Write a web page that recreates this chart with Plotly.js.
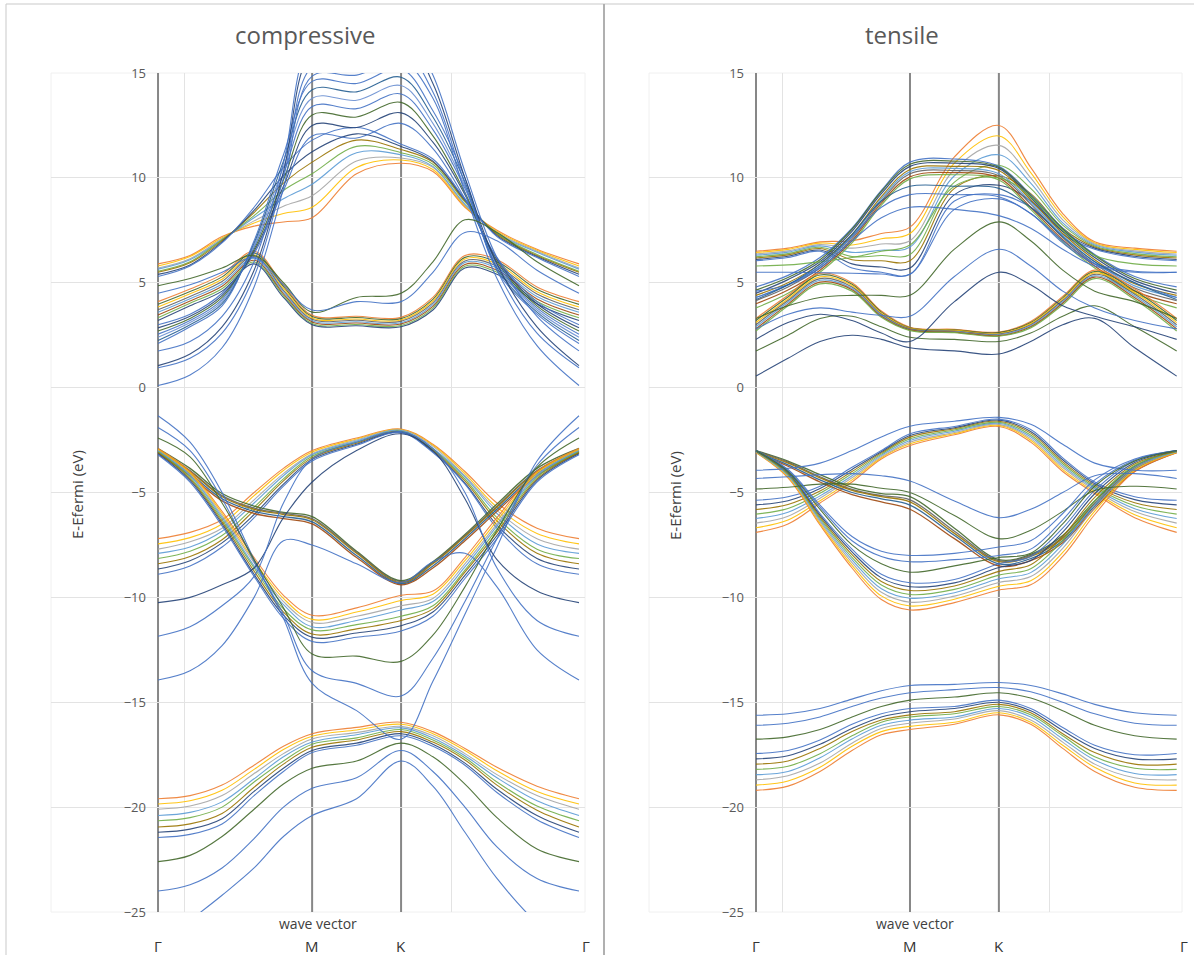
<!DOCTYPE html>
<html>
<head>
<meta charset="utf-8">
<script src="https://cdn.plot.ly/plotly-3.0.1.min.js"></script>
<style>html,body{margin:0;padding:0;background:#fff;}#chart{width:1194px;height:955px;}</style>
</head>
<body>
<div id="chart"></div>
<script>
// ---------------- DATA ----------------
// k-path distances (Γ -> M -> K -> Γ)
const kPath = [0, 0.12, 0.24, 0.36, 0.47, 0.5774, 0.744, 0.9107, 1.03, 1.15, 1.27, 1.42, 1.5774];
const kSym = [0, 0.5774, 0.9107, 1.5774];
const kSymLabels = ['Γ', 'M', 'K', 'Γ'];
const panelTitles = ['compressive', 'tensile'];
const yTitle = 'E-Efermi (eV)';
const xTitle = 'wave vector';

// ===== compressive =====
const cmpBottomFan = [
  [-19.6,-19.45,-18.95,-18.0,-17.1,-16.5,-16.2,-15.95,-16.4,-17.2,-18.1,-19.0,-19.6],
  [-19.85,-19.7,-19.2,-18.2,-17.25,-16.62,-16.32,-16.05,-16.5,-17.3,-18.27,-19.25,-19.85],
  [-20.1,-19.95,-19.45,-18.4,-17.45,-16.75,-16.45,-16.15,-16.6,-17.45,-18.45,-19.45,-20.1],
  [-20.4,-20.25,-19.75,-18.65,-17.6,-16.9,-16.55,-16.22,-16.7,-17.55,-18.6,-19.7,-20.4],
  [-20.65,-20.5,-20.0,-18.8,-17.8,-17.0,-16.7,-16.3,-16.8,-17.65,-18.8,-19.95,-20.65],
  [-20.95,-20.8,-20.3,-19.05,-17.95,-17.15,-16.8,-16.4,-16.9,-17.75,-18.95,-20.15,-20.95],
  [-21.2,-21.05,-20.55,-19.25,-18.15,-17.3,-16.95,-16.5,-17.0,-17.9,-19.15,-20.4,-21.2],
  [-21.45,-21.3,-20.8,-19.45,-18.3,-17.4,-17.05,-16.6,-17.1,-18.0,-19.3,-20.6,-21.45]
];
const cmpBottomSingles = [
  [-22.6,-22.3,-21.4,-20.1,-18.9,-18.15,-17.8,-16.95,-17.6,-18.9,-20.5,-22.0,-22.6],
  [-24.0,-23.7,-22.9,-21.5,-20.0,-19.1,-18.6,-17.3,-18.3,-20.0,-21.9,-23.4,-24.0],
  [-26.6,-25.4,-24.2,-22.9,-21.4,-20.4,-19.6,-17.8,-19.0,-21.2,-23.4,-25.5,-26.8]
];
const cmpValUpperFan = [
  [-7.2,-6.9,-6.3,-5.0,-3.85,-3.0,-2.4,-1.97,-2.7,-4.0,-5.5,-6.7,-7.2],
  [-7.45,-7.15,-6.5,-5.15,-3.95,-3.07,-2.45,-2.0,-2.75,-4.1,-5.7,-6.95,-7.45],
  [-7.7,-7.35,-6.7,-5.35,-4.1,-3.15,-2.5,-2.02,-2.8,-4.2,-5.85,-7.2,-7.7],
  [-7.9,-7.6,-6.85,-5.5,-4.2,-3.2,-2.55,-2.05,-2.9,-4.25,-6.0,-7.45,-7.9],
  [-8.15,-7.8,-7.05,-5.7,-4.35,-3.27,-2.6,-2.08,-2.95,-4.35,-6.2,-7.7,-8.15],
  [-8.4,-8.05,-7.25,-5.85,-4.45,-3.35,-2.65,-2.1,-3.0,-4.45,-6.35,-7.9,-8.4],
  [-8.65,-8.25,-7.4,-6.05,-4.6,-3.42,-2.7,-2.12,-3.05,-4.55,-6.55,-8.15,-8.65],
  [-8.9,-8.5,-7.6,-6.2,-4.7,-3.5,-2.75,-2.15,-3.1,-4.6,-6.7,-8.4,-8.9]
];
const cmpValThick = [
  [-2.9,-3.85,-5.05,-5.65,-5.95,-6.15,-7.8,-9.2,-8.3,-7.0,-5.55,-3.85,-2.9],
  [-2.95,-3.95,-5.15,-5.75,-6.0,-6.25,-7.85,-9.25,-8.35,-7.05,-5.65,-3.95,-2.95],
  [-3.0,-4.0,-5.2,-5.8,-6.05,-6.3,-7.9,-9.3,-8.4,-7.1,-5.7,-4.0,-3.0],
  [-3.05,-4.1,-5.3,-5.9,-6.15,-6.4,-8.0,-9.35,-8.5,-7.2,-5.8,-4.1,-3.05],
  [-3.1,-4.2,-5.4,-6.0,-6.25,-6.5,-8.1,-9.4,-8.6,-7.3,-5.9,-4.2,-3.1]
];
const cmpValLowerFan = [
  [-2.9,-4.0,-5.9,-8.1,-9.9,-10.85,-10.5,-9.9,-9.7,-8.1,-6.2,-4.0,-2.9],
  [-2.95,-4.07,-6.0,-8.25,-10.05,-11.05,-10.7,-10.15,-9.85,-8.25,-6.35,-4.07,-2.95],
  [-3.0,-4.15,-6.1,-8.35,-10.2,-11.2,-10.9,-10.4,-10.05,-8.4,-6.5,-4.15,-3.0],
  [-3.02,-4.2,-6.2,-8.5,-10.35,-11.4,-11.1,-10.6,-10.2,-8.55,-6.6,-4.2,-3.02],
  [-3.06,-4.28,-6.3,-8.6,-10.55,-11.55,-11.3,-10.9,-10.4,-8.7,-6.75,-4.28,-3.06],
  [-3.1,-4.35,-6.4,-8.75,-10.7,-11.75,-11.5,-11.1,-10.55,-8.8,-6.9,-4.35,-3.1],
  [-3.15,-4.42,-6.5,-8.9,-10.85,-11.9,-11.7,-11.35,-10.7,-8.95,-7.05,-4.42,-3.15],
  [-3.2,-4.5,-6.6,-9.0,-11.0,-12.1,-11.9,-11.6,-10.9,-9.1,-7.2,-4.5,-3.2]
];
const cmpValSingles = [
  [-1.34,-2.6,-5.0,-8.2,-11.0,-14.1,-15.4,-16.76,-14.0,-10.8,-7.6,-3.5,-1.34],
  [-1.9,-3.0,-5.3,-8.3,-10.8,-13.5,-14.1,-14.7,-12.9,-10.2,-7.2,-3.7,-1.9],
  [-2.4,-3.3,-5.5,-8.2,-10.5,-12.7,-12.8,-13.05,-11.8,-9.5,-6.8,-3.8,-2.4],
  [-10.25,-10.0,-9.4,-8.6,-6.2,-4.5,-3.0,-2.2,-3.0,-5.3,-8.2,-9.7,-10.25],
  [-11.85,-11.4,-10.4,-9.0,-5.5,-3.4,-2.6,-2.1,-2.9,-5.0,-8.6,-11.1,-11.85],
  [-13.94,-13.5,-12.3,-10.0,-7.3,-7.5,-8.4,-9.3,-8.3,-7.9,-9.5,-12.5,-13.94]
];
const cmpCondFan = [
  [5.9,6.3,7.2,7.7,7.9,8.1,10.2,10.7,10.3,8.6,7.5,6.6,5.9],
  [5.8,6.25,7.15,7.85,8.3,8.6,10.5,10.85,10.4,8.65,7.45,6.55,5.8],
  [5.7,6.15,7.1,7.95,8.65,9.15,10.8,10.95,10.5,8.7,7.4,6.5,5.7],
  [5.65,6.1,7.05,8.1,9.0,9.7,11.2,11.1,10.55,8.75,7.35,6.45,5.65],
  [5.55,6.0,7.05,8.2,9.4,10.2,11.5,11.2,10.65,8.85,7.35,6.35,5.55],
  [5.5,5.95,7.0,8.35,9.75,10.75,11.8,11.35,10.75,8.9,7.3,6.3,5.5],
  [5.4,5.85,6.95,8.45,10.1,11.25,12.1,11.5,10.8,8.95,7.25,6.25,5.4],
  [5.3,5.8,6.9,8.6,10.5,11.8,12.4,11.6,10.9,9.0,7.2,6.2,5.3]
];
const cmpCondHex = [
  [4.1,4.7,5.4,6.5,4.9,3.45,3.4,3.35,4.3,6.3,6.1,4.8,4.1],
  [3.97,4.58,5.28,6.42,4.82,3.39,3.34,3.29,4.21,6.21,6.0,4.69,3.97],
  [3.84,4.47,5.17,6.33,4.73,3.32,3.27,3.22,4.13,6.13,5.9,4.57,3.84],
  [3.71,4.35,5.06,6.25,4.64,3.26,3.21,3.16,4.04,6.04,5.8,4.46,3.71],
  [3.59,4.24,4.94,6.16,4.56,3.19,3.14,3.09,3.96,5.96,5.7,4.34,3.59],
  [3.46,4.13,4.83,6.07,4.47,3.13,3.08,3.03,3.87,5.87,5.6,4.23,3.46],
  [3.33,4.02,4.71,5.99,4.39,3.06,3.01,2.96,3.79,5.79,5.5,4.11,3.33],
  [3.2,3.9,4.6,5.9,4.3,3.0,2.95,2.9,3.7,5.7,5.4,4.0,3.2]
];
const cmpCondSteep = [
  [3.0,3.5,4.5,6.4,9.4,12.0,11.9,12.6,11.4,9.0,6.2,4.1,3.0],
  [2.85,3.4,4.4,6.5,9.6,12.5,12.4,13.1,11.7,9.2,6.1,4.0,2.85],
  [2.7,3.3,4.3,6.6,9.9,13.0,12.9,13.6,12.0,9.3,6.0,3.9,2.7],
  [2.55,3.2,4.2,6.7,10.2,13.4,13.3,14.0,12.3,9.5,5.9,3.8,2.55],
  [2.4,3.1,4.1,6.8,10.5,13.8,13.7,14.4,12.6,9.6,5.8,3.7,2.4],
  [2.25,3.0,4.0,6.9,10.8,14.2,14.1,14.8,12.9,9.8,5.7,3.6,2.25],
  [2.1,2.9,3.9,7.0,11.1,14.6,14.5,15.2,13.2,10.0,5.6,3.5,2.1]
];
const cmpCondFree = [
  [0.1,0.6,1.9,4.8,9.5,14.85,14.9,15.6,13.8,9.3,5.2,2.0,0.1],
  [0.95,1.4,2.6,5.3,10.0,15.3,15.5,16.2,14.1,9.7,5.6,2.6,0.95],
  [1.05,1.6,2.9,5.6,10.3,16.0,16.5,17.0,14.5,10.0,5.9,2.9,1.05],
  [1.75,2.2,3.4,6.0,10.7,16.5,17.0,17.5,14.9,10.3,6.2,3.4,1.75]
];
const cmpCondExtra = [
  [4.86,5.2,5.7,6.3,5.0,3.6,4.3,4.5,6.0,8.0,7.4,6.0,4.86],
  [4.5,4.9,5.5,6.2,4.9,3.7,4.1,4.1,5.5,7.4,7.0,5.6,4.5]
];

// ===== tensile =====
const tenBottomFan = [
  [-19.2,-19.0,-18.3,-17.3,-16.55,-16.3,-16.05,-15.6,-16.05,-17.2,-18.3,-19.05,-19.2],
  [-18.95,-18.75,-18.1,-17.1,-16.4,-16.15,-15.95,-15.5,-15.95,-17.05,-18.1,-18.85,-18.95],
  [-18.7,-18.5,-17.9,-16.95,-16.25,-16.0,-15.8,-15.4,-15.85,-16.9,-17.95,-18.6,-18.7],
  [-18.45,-18.3,-17.65,-16.75,-16.1,-15.85,-15.7,-15.3,-15.7,-16.75,-17.75,-18.4,-18.45],
  [-18.2,-18.05,-17.45,-16.6,-15.95,-15.7,-15.55,-15.2,-15.6,-16.6,-17.6,-18.15,-18.2],
  [-17.95,-17.8,-17.2,-16.4,-15.85,-15.6,-15.45,-15.1,-15.5,-16.5,-17.4,-17.95,-17.95],
  [-17.7,-17.55,-17.0,-16.25,-15.7,-15.45,-15.3,-15.0,-15.4,-16.35,-17.2,-17.7,-17.7],
  [-17.44,-17.3,-16.8,-16.05,-15.55,-15.3,-15.2,-14.9,-15.3,-16.2,-17.05,-17.5,-17.44]
];
const tenBottomSingles = [
  [-15.62,-15.55,-15.3,-14.85,-14.45,-14.2,-14.15,-14.06,-14.2,-14.6,-15.1,-15.5,-15.62],
  [-16.1,-16.0,-15.7,-15.2,-14.8,-14.55,-14.4,-14.3,-14.5,-15.0,-15.55,-16.0,-16.1],
  [-16.76,-16.65,-16.3,-15.7,-15.2,-14.9,-14.75,-14.55,-14.8,-15.4,-16.1,-16.6,-16.76]
];
const tenValUpperFan = [
  [-6.9,-6.5,-5.5,-4.5,-3.4,-2.76,-2.25,-1.85,-2.6,-4.0,-5.05,-6.2,-6.9],
  [-6.68,-6.31,-5.39,-4.4,-3.34,-2.68,-2.19,-1.8,-2.51,-3.91,-4.97,-6.06,-6.68],
  [-6.46,-6.13,-5.27,-4.3,-3.29,-2.6,-2.14,-1.75,-2.43,-3.81,-4.89,-5.91,-6.46],
  [-6.24,-5.94,-5.16,-4.2,-3.23,-2.52,-2.08,-1.7,-2.34,-3.72,-4.81,-5.77,-6.24],
  [-6.03,-5.76,-5.04,-4.1,-3.17,-2.44,-2.02,-1.65,-2.26,-3.63,-4.74,-5.63,-6.03],
  [-5.81,-5.57,-4.93,-4.0,-3.11,-2.36,-1.96,-1.6,-2.17,-3.54,-4.66,-5.49,-5.81],
  [-5.59,-5.39,-4.81,-3.9,-3.06,-2.28,-1.91,-1.55,-2.09,-3.44,-4.58,-5.34,-5.59],
  [-5.37,-5.2,-4.7,-3.8,-3.0,-2.2,-1.85,-1.5,-2.0,-3.35,-4.5,-5.2,-5.37]
];
const tenValThick = [
  [-3.0,-3.5,-4.15,-4.75,-5.05,-5.2,-6.7,-8.2,-7.95,-7.05,-5.4,-3.75,-3.0],
  [-3.02,-3.55,-4.25,-4.85,-5.15,-5.35,-6.85,-8.25,-8.0,-7.15,-5.5,-3.8,-3.02],
  [-3.05,-3.6,-4.3,-4.9,-5.2,-5.45,-6.95,-8.3,-8.05,-7.2,-5.55,-3.85,-3.05],
  [-3.08,-3.68,-4.4,-5.0,-5.3,-5.6,-7.05,-8.4,-8.15,-7.3,-5.65,-3.9,-3.08],
  [-3.1,-3.75,-4.5,-5.1,-5.45,-5.8,-7.2,-8.5,-8.25,-7.4,-5.75,-4.0,-3.1]
];
const tenValLowerFan = [
  [-3.1,-4.3,-6.55,-8.6,-10.1,-10.6,-10.25,-9.65,-9.4,-8.05,-6.05,-4.0,-3.1],
  [-3.09,-4.26,-6.47,-8.47,-9.93,-10.41,-10.09,-9.47,-9.21,-7.86,-5.89,-3.93,-3.09],
  [-3.07,-4.21,-6.39,-8.34,-9.76,-10.23,-9.94,-9.29,-9.01,-7.66,-5.72,-3.86,-3.07],
  [-3.06,-4.17,-6.31,-8.21,-9.59,-10.04,-9.78,-9.11,-8.82,-7.47,-5.56,-3.79,-3.06],
  [-3.04,-4.13,-6.24,-8.09,-9.41,-9.86,-9.62,-8.94,-8.63,-7.28,-5.39,-3.71,-3.04],
  [-3.03,-4.09,-6.16,-7.96,-9.24,-9.67,-9.46,-8.76,-8.44,-7.09,-5.23,-3.64,-3.03],
  [-3.01,-4.04,-6.08,-7.83,-9.07,-9.49,-9.31,-8.58,-8.24,-6.89,-5.06,-3.57,-3.01],
  [-3.0,-4.0,-6.0,-7.7,-8.9,-9.3,-9.15,-8.4,-8.05,-6.7,-4.9,-3.5,-3.0]
];
const tenValSingles = [
  [-3.94,-3.85,-3.6,-3.0,-2.35,-1.84,-1.6,-1.42,-1.75,-2.7,-3.6,-3.94,-3.94],
  [-4.33,-4.25,-4.15,-4.1,-4.2,-4.45,-5.4,-6.2,-5.8,-5.0,-4.2,-4.1,-4.33],
  [-4.83,-4.75,-4.6,-4.6,-4.8,-5.0,-6.1,-7.2,-6.8,-5.9,-4.9,-4.7,-4.83],
  [-3.0,-3.9,-5.6,-7.1,-7.8,-8.0,-7.9,-7.6,-7.3,-6.0,-4.4,-3.4,-3.0],
  [-3.0,-3.95,-5.7,-7.3,-8.05,-8.3,-8.2,-8.0,-7.7,-6.3,-4.6,-3.45,-3.0],
  [-3.0,-4.0,-5.8,-7.5,-8.4,-8.8,-8.5,-8.1,-7.9,-6.5,-4.7,-3.5,-3.0]
];
const tenCondFan = [
  [6.5,6.65,6.95,7.0,7.35,7.65,11.0,12.5,10.5,8.3,6.95,6.65,6.5],
  [6.44,6.59,6.89,6.8,7.1,7.35,10.7,12.0,10.25,8.15,6.9,6.59,6.44],
  [6.37,6.52,6.82,6.65,6.85,7.0,10.4,11.55,10.0,8.0,6.85,6.52,6.37],
  [6.31,6.46,6.76,6.45,6.55,6.7,10.1,11.1,9.75,7.85,6.8,6.46,6.31],
  [6.24,6.39,6.69,6.25,6.3,6.35,9.8,10.6,9.5,7.75,6.75,6.39,6.24],
  [6.18,6.33,6.63,6.1,6.05,6.05,9.5,10.1,9.25,7.6,6.7,6.33,6.18],
  [6.11,6.26,6.56,5.9,5.75,5.7,9.2,9.65,8.9,7.45,6.65,6.26,6.11],
  [6.05,6.2,6.5,5.7,5.5,5.4,8.9,9.2,8.6,7.3,6.6,6.2,6.05]
];
const tenCondThick = [
  [4.8,5.35,6.2,7.6,9.4,10.75,10.9,10.55,9.2,7.6,6.35,5.3,4.8],
  [4.65,5.25,6.1,7.55,9.35,10.65,10.8,10.5,9.15,7.55,6.3,5.2,4.65],
  [4.5,5.15,6.0,7.45,9.25,10.55,10.7,10.45,9.05,7.45,6.2,5.1,4.5],
  [4.4,5.0,5.9,7.3,9.1,10.4,10.55,10.35,8.95,7.35,6.1,4.95,4.4],
  [4.3,4.9,5.8,7.2,9.0,10.3,10.45,10.2,8.85,7.25,6.0,4.85,4.3],
  [4.15,4.8,5.7,7.1,8.9,10.2,10.35,10.1,8.75,7.15,5.9,4.75,4.15],
  [4.0,4.65,5.6,7.0,8.8,10.05,10.25,10.0,8.6,7.05,5.8,4.6,4.0],
  [3.8,4.5,5.5,6.9,8.7,9.95,10.15,9.9,8.5,6.95,5.7,4.5,3.8]
];
const tenCondHex = [
  [3.3,4.4,5.45,5.0,3.65,2.88,2.78,2.65,3.15,4.35,5.6,4.7,3.3],
  [3.2,4.32,5.37,4.93,3.6,2.85,2.75,2.62,3.1,4.28,5.53,4.62,3.2],
  [3.1,4.23,5.28,4.87,3.55,2.83,2.73,2.58,3.05,4.22,5.47,4.53,3.1],
  [3.0,4.15,5.2,4.8,3.5,2.8,2.7,2.55,3.0,4.15,5.4,4.45,3.0],
  [2.9,4.07,5.12,4.73,3.45,2.77,2.67,2.52,2.95,4.08,5.33,4.37,2.9],
  [2.8,3.98,5.03,4.67,3.4,2.75,2.65,2.48,2.9,4.02,5.27,4.28,2.8],
  [2.7,3.9,4.95,4.6,3.35,2.72,2.62,2.45,2.85,3.95,5.2,4.2,2.7]
];
const tenCondSingles = [
  [5.5,5.5,5.48,5.45,5.42,5.4,8.5,9.0,8.3,6.9,5.9,5.55,5.5],
  [5.8,5.85,6.0,6.2,6.5,6.8,9.6,10.0,9.1,7.5,6.3,5.9,5.8],
  [1.75,2.5,3.3,3.4,2.9,2.4,2.3,2.2,2.6,3.4,3.9,2.9,1.75],
  [0.55,1.4,2.2,2.5,2.3,1.9,1.75,1.6,2.2,3.0,3.3,1.9,0.55],
  [3.3,3.9,4.3,4.4,4.4,4.4,6.6,7.9,7.0,5.6,4.6,4.1,3.3],
  [2.8,3.5,3.8,3.6,3.45,3.4,5.3,6.6,5.8,4.6,3.8,3.2,2.8],
  [2.3,3.1,3.5,3.2,2.6,2.2,4.1,5.5,4.9,3.9,3.4,2.9,2.3],
  [4.6,4.9,5.7,7.0,8.1,8.6,8.5,8.2,7.6,6.6,5.8,5.5,5.5],
  [4.3,4.9,5.8,7.2,8.6,9.2,9.2,9.1,8.3,7.0,5.9,5.0,4.3],
  [4.2,4.9,5.9,7.3,8.9,9.6,9.6,9.5,8.6,7.2,6.0,5.0,4.2]
];

// ---------------- STYLE ----------------
const FAN = ['#ED7D31','#FFC000','#A5A5A5','#5B9BD5','#70AD47','#997300','#264478','#4472C4'];
const THICK = ['#43682B','#636363','#997300','#255E91','#9E480E'];
const STEEP = ['#4472C4','#264478','#43682B','#4472C4','#698ED0','#255E91','#4472C4'];
const BLUEMIX = ['#4472C4','#43682B','#264478','#997300','#5B9BD5','#636363','#9E480E','#70AD47'];
const HEXMIX = ['#ED7D31','#43682B','#FFC000','#636363','#5B9BD5','#9E480E','#70AD47','#264478'];
const FONT = '"Open Sans", "Noto Sans", sans-serif';

const panels = [
  {xa:'x', ya:'y', groups:[
    [cmpBottomFan, FAN], [cmpBottomSingles, ['#43682B','#4472C4','#4472C4']],
    [cmpValUpperFan, FAN], [cmpValThick, THICK, 1.3], [cmpValLowerFan, FAN],
    [cmpValSingles, ['#4472C4','#4472C4','#43682B','#264478','#4472C4','#4472C4']],
    [cmpCondFan, FAN], [cmpCondHex, HEXMIX], [cmpCondSteep, STEEP],
    [cmpCondFree, ['#4472C4','#4472C4','#264478','#4472C4']], [cmpCondExtra, ['#43682B','#4472C4']]
  ]},
  {xa:'x2', ya:'y2', groups:[
    [tenBottomFan, FAN], [tenBottomSingles, ['#4472C4','#4472C4','#43682B']],
    [tenValUpperFan, FAN], [tenValThick, THICK, 1.3], [tenValLowerFan, FAN],
    [tenValSingles, ['#4472C4','#4472C4','#43682B','#4472C4','#4472C4','#43682B']],
    [tenCondFan, FAN], [tenCondThick, BLUEMIX, 1.2], [tenCondHex, HEXMIX, 1.2],
    [tenCondSingles, ['#4472C4','#70AD47','#43682B','#264478','#43682B','#4472C4','#264478','#4472C4','#4472C4','#255E91']]
  ]}
];

const traces = [];
panels.forEach(p => {
  p.groups.forEach(([lines, cols, w]) => {
    lines.forEach((vals, i) => {
      const c = cols.length >= lines.length ? cols[i] :
        cols[Math.round(i * (cols.length - 1) / Math.max(1, lines.length - 1))];
      traces.push({
        type:'scatter', mode:'lines', x:kPath, y:vals, xaxis:p.xa, yaxis:p.ya,
        line:{color:c, width:w || 1.1, shape:'spline', smoothing:1},
        opacity:0.9, hoverinfo:'skip', showlegend:false
      });
    });
  });
});

// pixel helpers for page layout (1194 x 955)
const W = 1194, H = 955;
const px = v => v / W, py = v => (H - v) / H;

const shapes = [];
// chart frames
shapes.push({type:'line', xref:'paper', yref:'paper', x0:px(6), x1:px(6), y0:0, y1:py(4), line:{color:'#c9c9c9', width:1}});
shapes.push({type:'line', xref:'paper', yref:'paper', x0:px(6), x1:1, y0:py(4), y1:py(4), line:{color:'#c9c9c9', width:1}});
shapes.push({type:'line', xref:'paper', yref:'paper', x0:px(604), x1:px(604), y0:0, y1:py(4), line:{color:'#b0b0b0', width:2}});
// faint plot-area borders
[[51,585],[649,1182]].forEach(([a,b]) => {
  shapes.push({type:'rect', xref:'paper', yref:'paper', x0:px(a), x1:px(b), y0:py(912), y1:py(73), line:{color:'#f0f0f0', width:1}, layer:'below'});
});
// high-symmetry vertical lines (Γ, M, K)
[['x','y'],['x2','y2']].forEach(([xa,ya]) => {
  kSym.slice(0,3).forEach(k => {
    shapes.push({type:'line', xref:xa, yref:ya, x0:k, x1:k, y0:-25, y1:15, line:{color:'#878787', width:2}, layer:'below'});
  });
});

const annotations = [];
const panelCenters = [305, 902];
const yTitleX = [77, 675];
const xTitleX = [318, 915];
panelTitles.forEach((t, i) => {
  annotations.push({text:t, xref:'paper', yref:'paper', x:px(panelCenters[i]), y:py(35), showarrow:false,
    xanchor:'center', yanchor:'middle', font:{family:FONT, size:24, color:'#595959'}});
  annotations.push({text:yTitle, xref:'paper', yref:'paper', x:px(yTitleX[i]), y:py(495), showarrow:false,
    textangle:-90, xanchor:'center', yanchor:'middle', font:{family:FONT, size:15, color:'#404040'}});
  annotations.push({text:xTitle, xref:'paper', yref:'paper', x:px(xTitleX[i]), y:py(923), showarrow:false,
    xanchor:'center', yanchor:'middle', font:{family:FONT, size:14, color:'#404040'}});
  const xa = i === 0 ? 'x' : 'x2';
  kSym.forEach((k, j) => {
    annotations.push({text:kSymLabels[j], xref:xa, yref:'paper', x:k, y:0, showarrow:false,
      xanchor:'center', yanchor:'bottom', xshift: j === 3 ? 7 : 0, yshift:-3,
      font:{family:FONT, size:15, color:'#333333'}});
  });
});

const yCommon = {range:[-25,15], tick0:0, dtick:5, tickmode:'linear', showgrid:true, gridcolor:'#e3e3e3', gridwidth:1,
  zeroline:false, showline:false, ticks:'', ticklabelstandoff:12, anchor:'free', automargin:false,
  domain:[py(912), py(73)], tickfont:{family:FONT, size:13, color:'#595959'}, fixedrange:true};
const xCommon = {tickmode:'linear', tick0:0.1, dtick:1, showgrid:true, gridcolor:'#e3e3e3', gridwidth:1,
  showticklabels:false, ticks:'', zeroline:false, showline:false, automargin:false, fixedrange:true};

const layout = {
  width:W, height:H, margin:{l:0, r:0, t:0, b:0}, paper_bgcolor:'#ffffff', plot_bgcolor:'rgba(0,0,0,0)',
  showlegend:false,
  xaxis:Object.assign({}, xCommon, {domain:[px(51), px(585)], range:[-0.401, 1.5999], anchor:'y'}),
  yaxis:Object.assign({}, yCommon, {position:px(158)}),
  xaxis2:Object.assign({}, xCommon, {domain:[px(649), px(1182)], range:[-0.4012, 1.5973], anchor:'y2'}),
  yaxis2:Object.assign({}, yCommon, {position:px(756)}),
  shapes:shapes, annotations:annotations
};

Plotly.newPlot('chart', traces, layout, {staticPlot:true, displayModeBar:false});
</script>
</body>
</html>
